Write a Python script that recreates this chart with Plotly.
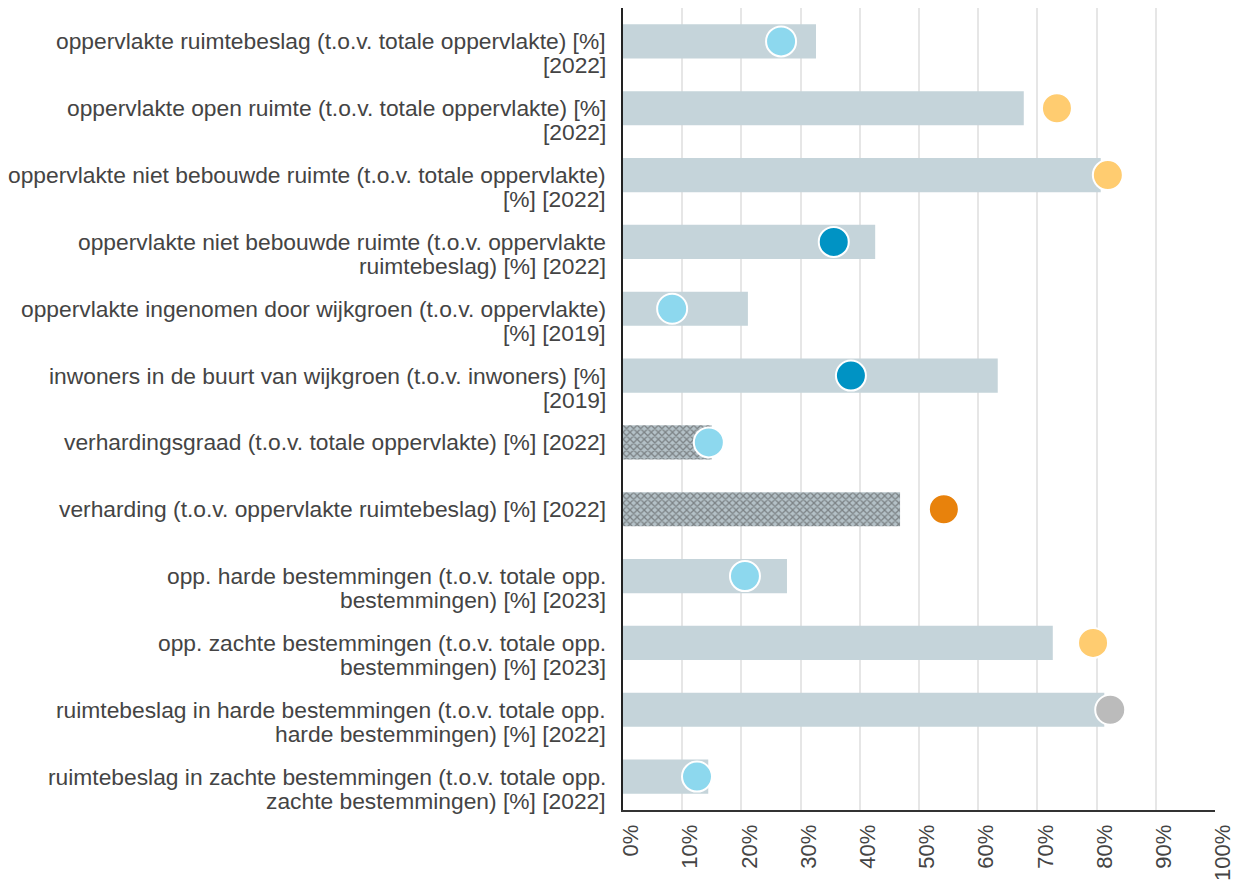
import plotly.graph_objects as go

categories = [
    "oppervlakte ruimtebeslag (t.o.v. totale oppervlakte) [%]<br>[2022]",
    "oppervlakte open ruimte (t.o.v. totale oppervlakte) [%]<br>[2022]",
    "oppervlakte niet bebouwde ruimte (t.o.v. totale oppervlakte)<br>[%] [2022]",
    "oppervlakte niet bebouwde ruimte (t.o.v. oppervlakte<br>ruimtebeslag) [%] [2022]",
    "oppervlakte ingenomen door wijkgroen (t.o.v. oppervlakte)<br>[%] [2019]",
    "inwoners in de buurt van wijkgroen (t.o.v. inwoners) [%]<br>[2019]",
    "verhardingsgraad (t.o.v. totale oppervlakte) [%] [2022]",
    "verharding (t.o.v. oppervlakte ruimtebeslag) [%] [2022]",
    "opp. harde bestemmingen (t.o.v. totale opp.<br>bestemmingen) [%] [2023]",
    "opp. zachte bestemmingen (t.o.v. totale opp.<br>bestemmingen) [%] [2023]",
    "ruimtebeslag in harde bestemmingen (t.o.v. totale opp.<br>harde bestemmingen) [%] [2022]",
    "ruimtebeslag in zachte bestemmingen (t.o.v. totale opp.<br>zachte bestemmingen) [%] [2022]",
]

bar_values = [32.6, 67.7, 80.7, 42.6, 21.1, 63.3, 15.0, 46.8, 27.7, 72.6, 81.3, 14.4]
dot_values = [26.7, 73.3, 81.9, 35.6, 8.3, 38.5, 14.5, 54.2, 20.6, 79.4, 82.3, 12.5]
dot_colors = ["#8DD8EE", "#FFCC70", "#FFCC70", "#0093C4", "#8DD8EE", "#0093C4",
              "#8DD8EE", "#E8820C", "#8DD8EE", "#FFCC70", "#BBBBBB", "#8DD8EE"]
bar_patterns = ["", "", "", "", "", "", "x", "x", "", "", "", ""]

tick_vals = [0, 10, 20, 30, 40, 50, 60, 70, 80, 90, 100]
tick_text = ["0%", "10%", "20%", "30%", "40%", "50%", "60%", "70%", "80%", "90%", "100%"]

FONT = "Liberation Sans, Arial, sans-serif"
TEXT_COLOR = "#444444"

fig = go.Figure()
fig.add_trace(go.Bar(
    y=categories, x=bar_values, orientation="h",
    marker=dict(color="#BCC9CF", line=dict(width=0),
                pattern=dict(shape=bar_patterns, fgcolor="#68757B", size=5,
                             solidity=0.45, fillmode="overlay")),
    width=0.51, showlegend=False,
))
fig.data[0].marker.color = ["#C5D4DA" if p == "" else "#B4C1C7" for p in bar_patterns]
fig.add_trace(go.Scatter(
    y=categories, x=dot_values, mode="markers",
    marker=dict(color=dot_colors, size=30, line=dict(color="white", width=2)),
    showlegend=False,
))

# category labels: first line aligned with the category, following lines below
annotations = []
for cat in categories:
    for j, line in enumerate(cat.split("<br>")):
        annotations.append(dict(
            xref="paper", x=0, xanchor="right", xshift=-15,
            yref="y", y=cat, yanchor="middle", yshift=-24 * j,
            text=line, showarrow=False,
            font=dict(family=FONT, size=22.8, color=TEXT_COLOR),
        ))

fig.update_layout(
    width=1241, height=881,
    margin=dict(l=615, r=34, t=0, b=79),
    paper_bgcolor="white", plot_bgcolor="white",
    font=dict(family=FONT, color=TEXT_COLOR),
    annotations=annotations,
)
fig.update_xaxes(
    range=[0, 100], tickvals=tick_vals, ticktext=tick_text, tickangle=-90,
    tickfont=dict(size=22, color=TEXT_COLOR),
    showgrid=True, gridcolor="#E6E6E6", gridwidth=2,
    showline=True, linecolor="#333333", linewidth=2, zeroline=False,
    ticks="", ticklabelstandoff=4, ticklabelshift=8, automargin=False,
    fixedrange=True,
)
fig.update_yaxes(
    range=[11.5, -0.5], showticklabels=False, automargin=False,
    showline=True, linecolor="#222222", linewidth=2, ticks="",
    showgrid=False,
)

fig.write_html("out.html")
